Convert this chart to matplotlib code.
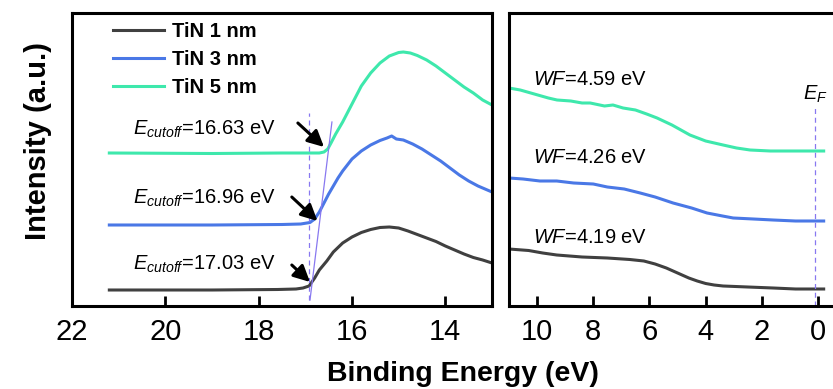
import numpy as np
import matplotlib
matplotlib.use("Agg")
import matplotlib.pyplot as plt

plt.rcParams['font.family'] = ['Liberation Sans', 'DejaVu Sans']
plt.rcParams['mathtext.fontset'] = 'custom'
plt.rcParams['mathtext.rm'] = 'Liberation Sans'
plt.rcParams['mathtext.it'] = 'Liberation Sans:italic'

#colors
c_1 = '#404040'
c_3 = '#4a78e6'
c_5 = '#3ee8ac'
c_guide = '#8878f0'

#left panel: secondary electron cutoff
e_1 = [21.2, 19.0, 17.6, 17.2, 17.05, 16.92, 16.8, 16.7, 16.54, 16.4, 16.2, 16.0, 15.8, 15.6, 15.4, 15.2,
       15.0, 14.8, 14.6, 14.4, 14.2, 14.0, 13.8, 13.6, 13.4, 13.2, 13.0]
i_1 = [16, 16, 16.5, 17, 18, 20, 28, 36, 45, 54, 63, 69, 73.5, 76.5, 78.5, 79,
       78, 75, 71.5, 68, 64.5, 60, 56, 52, 48.5, 46, 43]
e_3 = [21.2, 19.0, 17.5, 17.1, 16.9, 16.8, 16.7, 16.6, 16.5, 16.4, 16.3, 16.2, 16.0, 15.8, 15.6, 15.4,
       15.25, 15.15, 15.05, 14.9, 14.7, 14.5, 14.3, 14.1, 13.9, 13.7, 13.5, 13.3, 13.0]
i_3 = [81, 81, 81.5, 82, 83.5, 87, 94, 103, 112, 120, 128, 135, 147, 155, 161, 165.5,
       168, 170, 167, 166, 162, 157, 151, 145, 138, 131, 125, 120, 114]
e_5 = [21.2, 19.0, 17.5, 17.0, 16.7, 16.6, 16.52, 16.45, 16.35, 16.2, 16.0, 15.8, 15.6, 15.4, 15.2, 15.0,
       14.9, 14.75, 14.6, 14.4, 14.2, 14.0, 13.8, 13.6, 13.4, 13.2, 13.0]
i_5 = [153, 152.5, 153, 153, 153, 154, 157, 163, 172, 184, 202, 220, 233, 243, 250, 253.5,
       254, 253, 250.5, 246, 240, 233, 226, 219, 213, 206, 201]

#right panel: valence band edge
v_1 = [11.0, 10.3, 9.8, 9.3, 8.4, 7.5, 6.7, 6.2, 5.8, 5.4, 5.0, 4.6, 4.3, 4.0, 3.7, 3.38, 2.5, 1.6, 0.8, -0.2]
j_1 = [57, 55.5, 53, 51, 49, 48, 46.5, 45, 42, 38, 33, 28, 25, 22.5, 21, 20, 19, 18, 17, 17]
v_3 = [11.0, 10.5, 9.9, 9.3, 8.7, 8.0, 7.5, 6.9, 6.33, 5.8, 5.16, 4.5, 3.95, 3.4, 3.02, 2.3, 1.6, 0.8, -0.2]
j_3 = [128, 127, 125, 125, 123, 122, 119, 117, 113, 109, 103, 98, 93, 90, 88, 87, 86, 85, 85]
v_5 = [11.0, 10.6, 10.1, 9.6, 9.29, 8.8, 8.4, 8.11, 7.6, 7.3, 6.94, 6.5, 6.1, 5.73, 5.2, 4.56, 4.0,
       3.38, 2.9, 2.42, 1.7, 1.0, 0.4, -0.2]
j_5 = [218, 216, 212, 208, 206, 205, 203, 203, 200, 201, 198, 196, 192, 188, 181, 171, 165,
       161, 158, 156, 155, 155, 155, 155]

labels = ['TiN 1 nm', 'TiN 3 nm', 'TiN 5 nm']
cutoffs = ['17.03', '16.96', '16.63']
cut_y = [36, 102, 171]
arrow_from = [(17.29, 41), (17.29, 109), (17.16, 183)]
arrow_to = [(16.90, 24), (16.74, 85), (16.60, 159)]
wfs = ['4.19', '4.26', '4.59']
wf_y = [63, 143, 221]

fig = plt.figure(figsize=(8.33, 3.89), dpi=100)
ax1 = fig.add_axes([72/833, 1-306/389, 420/833, 293/389])
ax2 = fig.add_axes([509/833, 1-306/389, 329/833, 293/389])

lw = 2.2
ax1.plot(e_1, i_1, color=c_1, lw=lw, label=labels[0])
ax1.plot(e_3, i_3, color=c_3, lw=lw, label=labels[1])
ax1.plot(e_5, i_5, color=c_5, lw=lw, label=labels[2])
ax1.plot([16.92, 16.92], [6, 193], color=c_guide, lw=0.9, ls=(0, (4, 3)))
ax1.plot([16.90, 16.43], [6, 184], color=c_guide, lw=0.9)

for k in range(3):
    ax1.text(20.69, cut_y[k], r'$E_{cutoff}$=' + cutoffs[k] + ' eV', fontsize=14.5, va='baseline', ha='left')
    ax1.annotate('', xy=arrow_to[k], xytext=arrow_from[k],
                 arrowprops=dict(arrowstyle='-|>,head_length=0.7,head_width=0.35', color='black',
                                 lw=2.2, mutation_scale=14, shrinkA=0, shrinkB=0))

leg = ax1.legend(loc='upper left', bbox_to_anchor=(0.055, 1.03), frameon=False, handlelength=2.5,
                 handletextpad=0.4, labelspacing=0.45, prop={'weight': 'bold', 'size': 14.5})

ax2.plot(v_1, j_1, color=c_1, lw=lw)
ax2.plot(v_3, j_3, color=c_3, lw=lw)
ax2.plot(v_5, j_5, color=c_5, lw=lw)
ax2.plot([0.1, 0.1], [0, 201], color=c_guide, lw=0.9, ls=(0, (4, 3)))
for k in range(3):
    ax2.text(10.15, wf_y[k], r'$WF$=' + wfs[k] + ' eV', fontsize=14.5, va='baseline', ha='left')
ax2.text(0.55, 206, r'$E_F$', fontsize=14.5, va='baseline', ha='left')

ax1.set_xlim(22, 13)
ax2.set_xlim(11, -0.71)
for ax in (ax1, ax2):
    ax.set_ylim(0, 293)
    ax.set_yticks([])
    for s in ax.spines.values():
        s.set_linewidth(2.2)
    ax.tick_params(axis='x', direction='in', length=7, width=2, labelsize=21, pad=9)
ax1.set_xticks([22, 20, 18, 16, 14])
ax2.set_xticks([10, 8, 6, 4, 2, 0])

fig.text(463/833, 1-374/389, 'Binding Energy (eV)', fontsize=20.5, fontweight='bold', ha='center', va='center')
fig.text(38/833, 1-141/389, 'Intensity (a.u.)', fontsize=21, fontweight='bold', ha='center', va='center', rotation=90)

fig.savefig('out.png', dpi=100)
